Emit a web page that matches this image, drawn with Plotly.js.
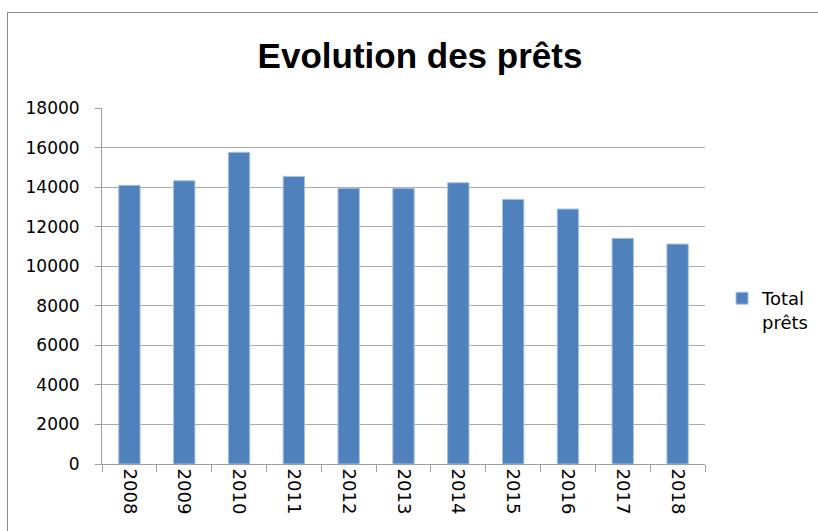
<!DOCTYPE html>
<html>
<head>
<meta charset="utf-8">
<script src="https://cdn.plot.ly/plotly-3.0.1.min.js"></script>
<style>
  html, body { margin: 0; padding: 0; background: #ffffff; }
  #frame { position: absolute; left: 7px; top: 12px; width: 900px; height: 600px;
           border: 1.5px solid #8a8a8a; box-sizing: border-box; }
  #chart { position: absolute; left: 0; top: 0; width: 818px; height: 531px; }
</style>
</head>
<body>
<div id="frame"></div>
<div id="chart"></div>
<script>
const years = ['2008','2009','2010','2011','2012','2013','2014','2015','2016','2017','2018'];
const totalPrets = [14090, 14320, 15760, 14540, 13940, 13940, 14220, 13380, 12890, 11410, 11120];
const seriesName = 'Total<br>prêts';
const chartTitle = 'Evolution des prêts';
const yTicks = [0, 2000, 4000, 6000, 8000, 10000, 12000, 14000, 16000, 18000];

const trace = {
  type: 'bar',
  x: years,
  y: totalPrets,
  name: seriesName,
  marker: { color: '#4f81bd', line: { color: '#a9c2e0', width: 1 } },
  hoverinfo: 'x+y'
};

const layout = {
  width: 818,
  height: 531,
  paper_bgcolor: 'rgba(0,0,0,0)',
  plot_bgcolor: 'rgba(0,0,0,0)',
  margin: { l: 102, r: 113, t: 108, b: 67, pad: 0 },
  bargap: 0.61,
  showlegend: true,
  title: {
    text: chartTitle,
    font: { family: 'Liberation Sans, Arial, sans-serif', size: 35, color: '#000000', weight: 'bold' },
    x: 420 / 818, xref: 'container', xanchor: 'center',
    y: 1 - 56 / 531, yref: 'container', yanchor: 'middle'
  },
  xaxis: {
    type: 'category',
    tickangle: 90,
    ticks: 'outside',
    tickson: 'boundaries',
    ticklen: 7,
    tickcolor: '#a0a0a0',
    tickwidth: 1,
    showline: true,
    linecolor: '#a0a0a0',
    linewidth: 1,
    showgrid: false,
    automargin: false,
    tickfont: { family: 'DejaVu Sans, sans-serif', size: 18, color: '#000000' }
  },
  yaxis: {
    range: [0, 18000],
    tickvals: yTicks,
    ticktext: yTicks.map(String),
    ticks: 'outside',
    ticklen: 6,
    tickcolor: '#a0a0a0',
    tickwidth: 1,
    ticklabelstandoff: 12,
    showline: true,
    linecolor: '#a0a0a0',
    linewidth: 1,
    showgrid: true,
    gridcolor: '#ababab',
    gridwidth: 1,
    zeroline: false,
    automargin: false,
    tickfont: { family: 'DejaVu Sans, sans-serif', size: 17, color: '#000000' }
  },
  legend: {
    x: 722 / 818, xref: 'container', xanchor: 'left',
    y: 1 - 280 / 531, yref: 'container', yanchor: 'top',
    valign: 'top',
    bgcolor: 'rgba(0,0,0,0)',
    font: { family: 'DejaVu Sans, sans-serif', size: 18, color: '#000000' },
    tracegroupgap: 0
  }
};

Plotly.newPlot('chart', [trace], layout, { displayModeBar: false, staticPlot: true });
</script>
</body>
</html>
